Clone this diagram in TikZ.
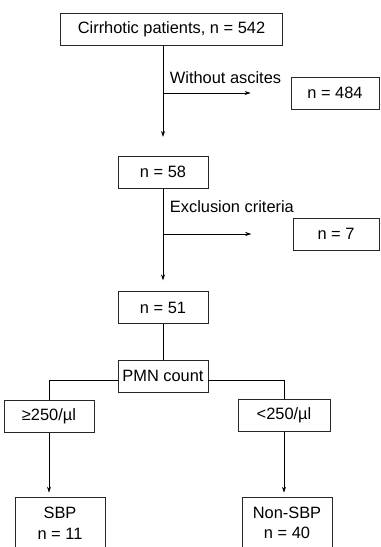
\documentclass[tikz,border=0pt]{standalone}
\usepackage{fontspec}
\setmainfont{Liberation Sans}
\usetikzlibrary{arrows.meta}

\begin{document}
\begin{tikzpicture}[x=0.75pt, y=-0.75pt,
  flowBox/.style={draw=black!85, line width=0.6pt, minimum width=67.5pt, minimum height=24pt, inner sep=2pt, font=\fontsize{12.3}{15.5}\selectfont, fill=white},
  stepArr/.style={line width=0.5pt, -{Stealth[length=4.5pt,width=3pt]}},
  plainLn/.style={line width=0.5pt},
  noteTxt/.style={inner sep=0pt, font=\fontsize{12.3}{15.5}\selectfont},
]
\useasboundingbox (0,0) rectangle (380,547);
\clip (0,0) rectangle (380,547);
\node[flowBox, minimum width=167pt] (cirr) at (171.5,29) {Cirrhotic patients, n = 542};
\node[flowBox, minimum width=66pt] (noAsc) at (335,93) {n = 484};
\node[flowBox] (n58) at (163,172) {n = 58};
\node[flowBox, minimum width=64.5pt] (excl) at (336,234) {n = 7};
\node[flowBox] (n51) at (163,307.5) {n = 51};
\node[flowBox] (pmn) at (163,376) {PMN count};
\node[flowBox] (high) at (49,416.5) {≥250/µl};
\node[flowBox, minimum width=69pt] (low) at (284,415.5) {<250/µl};
\node[flowBox, minimum height=39pt, align=center] (sbp) at (60,523) {SBP\\n = 11};
\node[flowBox, minimum height=39pt, align=center] (nonsbp) at (287,523) {Non-SBP\\n = 40};
\coordinate (brA) at (n58.north |- noAsc.west);
\coordinate (brB) at (n58.north |- excl.west);
\draw[stepArr, shorten >=14pt] (cirr.south -| n58.north) -- (n58.north);
\draw[stepArr, shorten >=30pt] (brA) -- (noAsc.west);
\node[noteTxt, anchor=base west] (lblA) at ([xshift=5pt,yshift=7.5pt]brA) {Without ascites};
\draw[stepArr, shorten >=8pt] (n58.south) -- (n51.north);
\draw[stepArr, shorten >=31pt] (brB) -- (excl.west);
\node[noteTxt, anchor=base west] (lblB) at ([xshift=5pt,yshift=16.5pt]brB) {Exclusion criteria};
\draw[plainLn] (n51) -- (pmn);
\draw[plainLn] ([yshift=-3pt]pmn.west) -| (high.north);
\draw[plainLn] ([yshift=-3pt]pmn.east) -| (low.north);
\draw[stepArr, shorten >=3pt] (high.south) -- (high.south |- sbp.north);
\draw[stepArr, shorten >=3pt] (low.south) -- (low.south |- nonsbp.north);
\end{tikzpicture}
\end{document}
